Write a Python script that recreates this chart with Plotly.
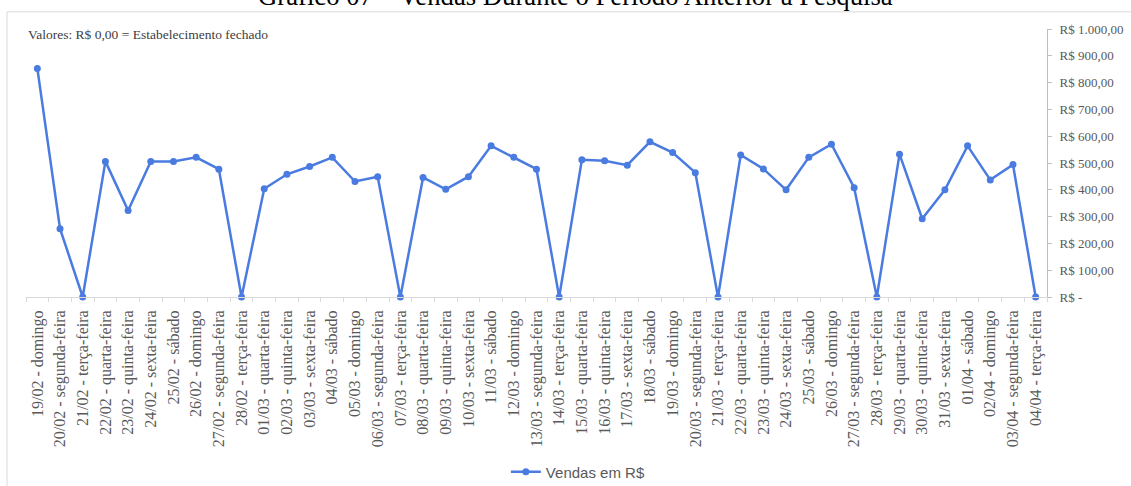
import plotly.graph_objects as go

dates = ["19/02 - domingo", "20/02 - segunda-feira", "21/02 - terça-feira", "22/02 - quarta-feira",
         "23/02 - quinta-feira", "24/02 - sexta-feira", "25/02 - sábado", "26/02 - domingo",
         "27/02 - segunda-feira", "28/02 - terça-feira", "01/03 - quarta-feira", "02/03 - quinta-feira",
         "03/03 - sexta-feira", "04/03 - sábado", "05/03 - domingo", "06/03 - segunda-feira",
         "07/03 - terça-feira", "08/03 - quarta-feira", "09/03 - quinta-feira", "10/03 - sexta-feira",
         "11/03 - sábado", "12/03 - domingo", "13/03 - segunda-feira", "14/03 - terça-feira",
         "15/03 - quarta-feira", "16/03 - quinta-feira", "17/03 - sexta-feira", "18/03 - sábado",
         "19/03 - domingo", "20/03 - segunda-feira", "21/03 - terça-feira", "22/03 - quarta-feira",
         "23/03 - quinta-feira", "24/03 - sexta-feira", "25/03 - sábado", "26/03 - domingo",
         "27/03 - segunda-feira", "28/03 - terça-feira", "29/03 - quarta-feira", "30/03 - quinta-feira",
         "31/03 - sexta-feira", "01/04 - sábado", "02/04 - domingo", "03/04 - segunda-feira",
         "04/04 - terça-feira"]

vendas = [853, 255, 0, 506, 323, 506, 506, 521, 477, 0,
          404, 458, 487, 521, 431, 449, 0, 446, 402, 449,
          564, 521, 477, 0, 512, 508, 492, 579, 539, 464,
          0, 530, 478, 400, 521, 570, 408, 0, 533, 292,
          400, 564, 437, 494, 0]

y_tickvals = [0, 100, 200, 300, 400, 500, 600, 700, 800, 900, 1000]
y_ticktext = ["R$ -", "R$ 100,00", "R$ 200,00", "R$ 300,00", "R$ 400,00", "R$ 500,00",
              "R$ 600,00", "R$ 700,00", "R$ 800,00", "R$ 900,00", "R$ 1.000,00"]

title_text = "Gráfico 07 – Vendas Durante o Período Anterior à Pesquisa"
note_text = "Valores: R$ 0,00 = Estabelecimento fechado"
series_name = "Vendas em R$"

blue = "#4a7be0"
serif = "Liberation Serif, Times New Roman, serif"

fig = go.Figure()
fig.add_trace(go.Scatter(
    x=dates, y=vendas, mode="lines+markers", name=series_name,
    line=dict(color=blue, width=2.5),
    marker=dict(color=blue, size=7),
    cliponaxis=False,
))

fig.update_layout(
    width=1131, height=486,
    margin=dict(l=26, r=84, t=29, b=189, autoexpand=False),
    paper_bgcolor="white", plot_bgcolor="white",
    showlegend=True,
    legend=dict(orientation="h", x=0.541, xanchor="center", y=-0.653, yanchor="middle",
                font=dict(family="Liberation Sans, Arial, sans-serif", size=15, color="#595959")),
    xaxis=dict(
        type="category", tickangle=-90,
        showline=True, linecolor="#d9d9d9", linewidth=1,
        ticks="outside", tickcolor="#d9d9d9", ticklen=4, tickson="boundaries",
        showgrid=False, zeroline=False, automargin=False,
        ticklabelstandoff=6,
        tickfont=dict(family=serif, size=16, color="#595959"),
        range=[-0.5, len(dates) - 0.5],
    ),
    yaxis=dict(
        side="right", range=[0, 1000],
        tickvals=y_tickvals, ticktext=y_ticktext,
        showline=True, linecolor="#bfbfbf", linewidth=1,
        ticks="outside", tickcolor="#bfbfbf", ticklen=4,
        showgrid=False, zeroline=False, automargin=False,
        ticklabelstandoff=5,
        tickfont=dict(family=serif, size=13, color="#595959"),
    ),
    shapes=[dict(type="rect", xref="paper", yref="paper",
                 x0=-0.0186, x1=1.09, y0=-0.76, y1=1.064,
                 line=dict(color="#d9d9d9", width=1), fillcolor="rgba(0,0,0,0)", layer="below")],
    annotations=[
        dict(text=title_text, xref="paper", yref="paper", x=0.538, y=1.058, xanchor="center",
             yanchor="bottom", showarrow=False,
             font=dict(family=serif, size=26.7, color="black")),
        dict(text=note_text, xref="paper", yref="paper", x=0.0, y=0.981, xanchor="left",
             yanchor="middle", showarrow=False,
             font=dict(family=serif, size=13.5, color="#404040")),
    ],
)

fig.write_html("out.html", config={"displayModeBar": False},
               post_script="document.body.style.margin='0';")
